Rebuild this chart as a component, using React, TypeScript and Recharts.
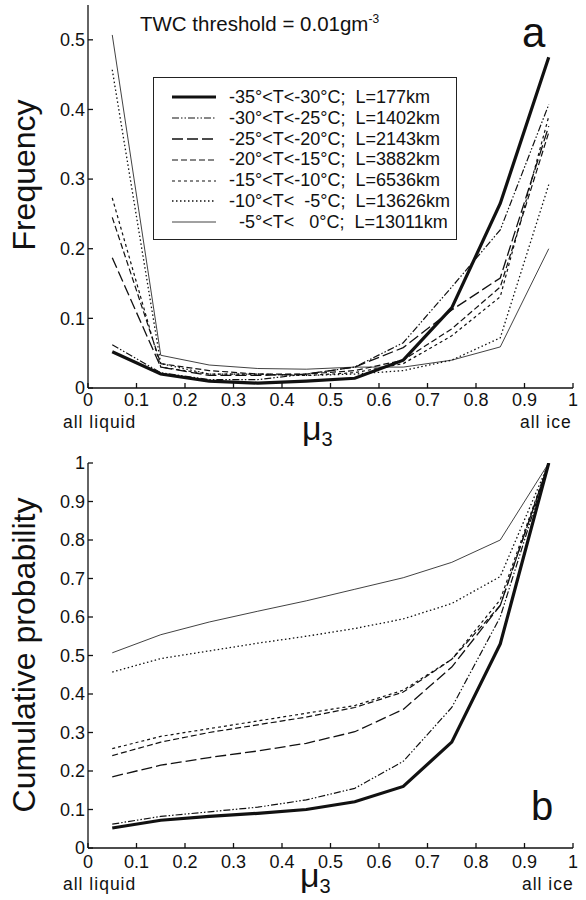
import React from "react";
import { LineChart, Line, XAxis, YAxis, Legend } from "recharts";

// mu_3 bin centres
const muBins = [0.05, 0.15, 0.25, 0.35, 0.45, 0.55, 0.65, 0.75, 0.85, 0.95];
const xTicks = [0, 0.1, 0.2, 0.3, 0.4, 0.5, 0.6, 0.7, 0.8, 0.9, 1];
const freqTicks = [0, 0.1, 0.2, 0.3, 0.4, 0.5];
const cumTicks = [0, 0.1, 0.2, 0.3, 0.4, 0.5, 0.6, 0.7, 0.8, 0.9, 1];

// panel a: frequency
const freqT35 = [0.052, 0.02, 0.01, 0.007, 0.01, 0.014, 0.04, 0.115, 0.265, 0.475];
const freqT30 = [0.062, 0.022, 0.012, 0.012, 0.02, 0.03, 0.065, 0.145, 0.227, 0.407];
const freqT25 = [0.187, 0.03, 0.018, 0.018, 0.02, 0.03, 0.058, 0.112, 0.158, 0.376];
const freqT20 = [0.245, 0.035, 0.025, 0.02, 0.02, 0.025, 0.04, 0.085, 0.145, 0.367];
const freqT15 = [0.273, 0.03, 0.02, 0.02, 0.018, 0.022, 0.035, 0.075, 0.131, 0.39];
const freqT10 = [0.457, 0.035, 0.02, 0.02, 0.018, 0.02, 0.025, 0.04, 0.072, 0.292];
const freqT05 = [0.507, 0.047, 0.033, 0.028, 0.027, 0.03, 0.03, 0.04, 0.059, 0.2];

// panel b: cumulative probability
const cumT35 = [0.052, 0.072, 0.082, 0.09, 0.1, 0.12, 0.16, 0.275, 0.53, 1.0];
const cumT30 = [0.062, 0.082, 0.094, 0.106, 0.125, 0.155, 0.225, 0.365, 0.6, 1.0];
const cumT25 = [0.185, 0.215, 0.235, 0.252, 0.272, 0.302, 0.36, 0.47, 0.63, 1.0];
const cumT20 = [0.24, 0.275, 0.3, 0.32, 0.34, 0.365, 0.405, 0.49, 0.63, 1.0];
const cumT15 = [0.258, 0.29, 0.31, 0.33, 0.35, 0.37, 0.41, 0.49, 0.645, 1.0];
const cumT10 = [0.457, 0.492, 0.512, 0.532, 0.55, 0.57, 0.595, 0.635, 0.705, 1.0];
const cumT05 = [0.507, 0.554, 0.587, 0.615, 0.642, 0.672, 0.702, 0.742, 0.8, 1.0];

const seriesLabels = [
  "-35°<T<-30°C;  L=177km",
  "-30°<T<-25°C;  L=1402km",
  "-25°<T<-20°C;  L=2143km",
  "-20°<T<-15°C;  L=3882km",
  "-15°<T<-10°C;  L=6536km",
  "-10°<T<  -5°C;  L=13626km",
  "  -5°<T<   0°C;  L=13011km",
];

const FONT = "'Liberation Sans', Arial, Helvetica, sans-serif";
const INK = "#111";

const series = [
  { key: "t35", width: 3.2, dash: undefined },
  { key: "t30", width: 1.2, dash: "7 2 1.5 2 1.5 2" },
  { key: "t25", width: 1.3, dash: "11 4" },
  { key: "t20", width: 1.2, dash: "6 3" },
  { key: "t15", width: 1.2, dash: "3 3" },
  { key: "t10", width: 1.3, dash: "1.5 2.5" },
  { key: "t05", width: 0.8, dash: undefined },
];

const freqRows = muBins.map((mu, i) => ({
  mu,
  t35: freqT35[i],
  t30: freqT30[i],
  t25: freqT25[i],
  t20: freqT20[i],
  t15: freqT15[i],
  t10: freqT10[i],
  t05: freqT05[i],
}));

const cumRows = muBins.map((mu, i) => ({
  mu,
  t35: cumT35[i],
  t30: cumT30[i],
  t25: cumT25[i],
  t20: cumT20[i],
  t15: cumT15[i],
  t10: cumT10[i],
  t05: cumT05[i],
}));

const fmt = (v: number) => (v === 0 ? "0" : v === 1 ? "1" : v.toFixed(1));
const tickStyle = { fill: INK, fontSize: 18, fontFamily: FONT };
const lineStyle = { stroke: INK, strokeWidth: 1.3 };

function LegendBox() {
  return (
    <div
      style={{
        border: "1px solid #222",
        background: "#fff",
        width: 304,
        height: 163,
        boxSizing: "border-box",
        paddingTop: 9,
        fontFamily: FONT,
        fontSize: 18,
        color: INK,
      }}
    >
      {series.map((s, i) => (
        <div key={s.key} style={{ display: "flex", alignItems: "center", height: 20.8 }}>
          <svg width={72} height={12} style={{ flex: "none" }}>
            <line
              x1={18}
              x2={62}
              y1={6}
              y2={6}
              stroke={INK}
              strokeWidth={s.width}
              strokeDasharray={s.dash}
            />
          </svg>
          <span style={{ whiteSpace: "pre", marginLeft: 3 }}>{seriesLabels[i]}</span>
        </div>
      ))}
    </div>
  );
}

function renderSeries() {
  return series.map((s) => (
    <Line
      key={s.key}
      dataKey={s.key}
      type="linear"
      stroke={INK}
      strokeWidth={s.width}
      strokeDasharray={s.dash}
      dot={false}
      activeDot={false}
      isAnimationActive={false}
    />
  ));
}

function axes(yTicks: number[], yMax: number, xMargin: number) {
  return [
    <XAxis
      key="xb"
      dataKey="mu"
      type="number"
      domain={[0, 1]}
      ticks={xTicks}
      tickFormatter={fmt}
      tick={tickStyle}
      tickSize={-5}
      tickMargin={xMargin}
      axisLine={lineStyle}
      tickLine={lineStyle}
      height={52}
      interval={0}
    />,
    <XAxis
      key="xt"
      xAxisId="top"
      orientation="top"
      dataKey="mu"
      type="number"
      domain={[0, 1]}
      ticks={xTicks}
      tick={false}
      mirror
      tickSize={5}
      axisLine={lineStyle}
      tickLine={lineStyle}
      height={0}
    />,
    <YAxis
      key="yl"
      type="number"
      domain={[0, yMax]}
      ticks={yTicks}
      tickFormatter={fmt}
      tick={tickStyle}
      tickSize={-5}
      tickMargin={8}
      axisLine={lineStyle}
      tickLine={lineStyle}
      width={88}
      interval={0}
      allowDataOverflow
    />,
    <YAxis
      key="yr"
      yAxisId="right"
      orientation="right"
      type="number"
      domain={[0, yMax]}
      ticks={yTicks}
      tick={false}
      mirror
      tickSize={5}
      axisLine={lineStyle}
      tickLine={lineStyle}
      width={0}
    />,
  ];
}

const abs = (left: number, top: number, extra: React.CSSProperties = {}): React.CSSProperties => ({
  position: "absolute",
  left,
  top,
  fontFamily: FONT,
  color: INK,
  whiteSpace: "nowrap",
  lineHeight: 1,
  ...extra,
});

const sideLabel = (cx: number, cy: number): React.CSSProperties => ({
  ...abs(cx, cy, { fontSize: 32 }),
  transform: "translate(-50%, -50%) rotate(-90deg)",
});

function Mu({ left, top }: { left: number; top: number }) {
  return (
    <div style={abs(left, top, { fontSize: 34 })}>
      μ<span style={{ fontSize: 20, position: "relative", top: 6 }}>3</span>
    </div>
  );
}

export default function App() {
  return (
    <div style={{ position: "absolute", left: 0, top: 0, width: 586, height: 900, background: "#fff", overflow: "hidden" }}>
      {/* panel a */}
      <div style={{ position: "absolute", left: 0, top: 0 }}>
        <LineChart width={586} height={440} data={freqRows} margin={{ top: 5, right: 13, bottom: 0, left: 0 }}>
          {axes(freqTicks, 0.55, 10)}
          {renderSeries()}
          <Legend
            layout="vertical"
            align="center"
            verticalAlign="middle"
            content={() => <LegendBox />}
            wrapperStyle={{ position: "absolute", left: 153, top: 77, width: 304, height: 163 }}
          />
        </LineChart>
      </div>
      <div style={abs(140, 13, { fontSize: 20.5 })}>
        TWC threshold = 0.01gm<sup style={{ fontSize: 12, verticalAlign: "0.7em" }}>-3</sup>
      </div>
      <div style={abs(522, 12, { fontSize: 42 })}>a</div>
      <div style={sideLabel(24, 175)}>Frequency</div>
      <div style={abs(63, 414, { fontSize: 17.5, letterSpacing: 1 })}>all liquid</div>
      <div style={abs(520, 414, { fontSize: 17.5, letterSpacing: 1 })}>all ice</div>
      <Mu left={302} top={411} />

      {/* panel b */}
      <div style={{ position: "absolute", left: 0, top: 440 }}>
        <LineChart width={586} height={460} data={cumRows} margin={{ top: 23, right: 13, bottom: 0, left: 0 }}>
          {axes(cumTicks, 1, 12)}
          {renderSeries()}
        </LineChart>
      </div>
      <div style={abs(531, 786, { fontSize: 40 })}>b</div>
      <div style={sideLabel(24, 655)}>Cumulative probability</div>
      <div style={abs(63, 876, { fontSize: 17.5, letterSpacing: 1 })}>all liquid</div>
      <div style={abs(522, 876, { fontSize: 17.5, letterSpacing: 1 })}>all ice</div>
      <Mu left={300} top={858} />
    </div>
  );
}
